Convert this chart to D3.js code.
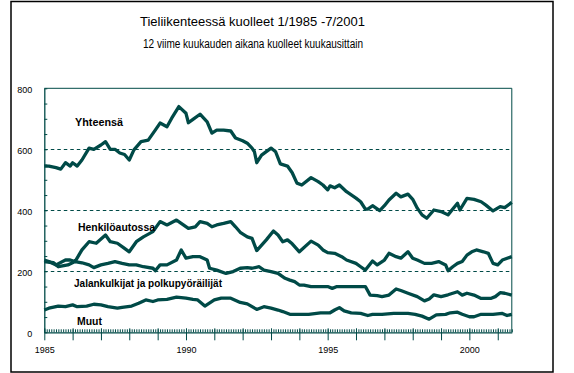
<!DOCTYPE html>
<html>
<head>
<meta charset="utf-8">
<script src="https://cdn.jsdelivr.net/npm/d3@7"></script>
<style>
  body { margin: 0; background: #fff; }
  svg { display: block; }
</style>
</head>
<body>
<script>
"use strict";

// month index counted from 1/1985, value = deaths in the last 12 months
const totalMonths = [0, 2, 5, 7, 9, 11, 12, 14, 16, 19, 21, 24, 26, 28, 30, 32, 34, 36, 38, 41, 44, 47, 49, 52, 54, 57, 60, 61, 63, 66, 69, 71, 73, 76, 79, 81, 84, 86, 88, 89, 90, 92, 96, 98, 100, 103, 105, 107, 109, 113, 116, 118, 120, 121, 123, 125, 128, 132, 134, 136, 137, 139, 142, 144, 146, 149, 151, 154, 156, 158, 160, 162, 165, 168, 171, 175, 176, 179, 182, 185, 187, 190, 193, 195, 198]
const totalValues = [545, 545, 540, 535, 556, 545, 556, 545, 565, 604, 600, 614, 625, 600, 600, 588, 583, 565, 598, 625, 630, 663, 686, 674, 702, 740, 718, 687, 698, 715, 690, 653, 663, 663, 660, 637, 628, 620, 604, 592, 556, 581, 604, 592, 552, 545, 523, 489, 483, 507, 494, 483, 467, 480, 474, 483, 461, 440, 428, 404, 404, 415, 399, 415, 434, 456, 444, 453, 436, 407, 385, 374, 401, 396, 385, 423, 401, 439, 436, 428, 417, 398, 412, 409, 426]

const carMonths = [0, 2, 5, 9, 11, 13, 16, 19, 22, 26, 28, 31, 34, 36, 39, 42, 46, 49, 52, 56, 61, 64, 66, 69, 71, 73, 76, 79, 81, 83, 86, 88, 90, 94, 97, 99, 101, 103, 105, 108, 113, 116, 118, 120, 123, 126, 128, 132, 134, 136, 139, 141, 144, 146, 149, 151, 154, 156, 158, 161, 164, 167, 170, 171, 173, 175, 177, 179, 181, 183, 186, 188, 190, 192, 194, 198]
const carValues = [237, 232, 221, 237, 237, 232, 270, 297, 292, 319, 297, 292, 275, 264, 297, 313, 330, 363, 352, 368, 341, 346, 363, 357, 346, 352, 357, 363, 346, 328, 313, 308, 268, 303, 332, 319, 297, 303, 290, 264, 299, 286, 270, 261, 259, 248, 237, 226, 215, 204, 234, 221, 237, 259, 248, 243, 264, 243, 237, 226, 226, 232, 221, 202, 215, 226, 232, 253, 264, 270, 264, 259, 226, 221, 237, 248]

const walkMonths = [0, 4, 6, 10, 13, 16, 19, 21, 24, 27, 30, 33, 36, 39, 42, 46, 47, 49, 52, 56, 58, 60, 63, 66, 69, 70, 73, 77, 80, 83, 86, 88, 91, 93, 96, 99, 102, 104, 106, 108, 110, 113, 117, 120, 122, 124, 127, 130, 134, 136, 138, 141, 143, 146, 149, 151, 154, 158, 161, 163, 165, 168, 171, 175, 177, 179, 182, 185, 189, 191, 193, 195, 198]
const walkValues = [232, 228, 215, 221, 232, 228, 221, 212, 221, 226, 232, 226, 221, 221, 215, 210, 202, 221, 221, 237, 270, 243, 248, 248, 237, 210, 204, 193, 199, 210, 212, 210, 215, 204, 199, 193, 177, 171, 166, 155, 155, 150, 150, 150, 144, 150, 150, 150, 150, 150, 122, 120, 117, 122, 142, 137, 128, 117, 103, 109, 123, 117, 123, 133, 122, 128, 122, 111, 111, 117, 130, 128, 122]

const otherMonths = [0, 2, 6, 9, 12, 14, 18, 21, 24, 27, 31, 33, 37, 40, 43, 46, 48, 52, 56, 60, 63, 65, 68, 72, 75, 79, 83, 86, 90, 93, 96, 99, 101, 104, 108, 112, 117, 121, 123, 125, 127, 130, 134, 137, 139, 143, 148, 151, 154, 157, 160, 163, 166, 170, 172, 175, 177, 180, 182, 185, 190, 194, 196, 198]
const otherValues = [73, 79, 86, 84, 90, 84, 86, 92, 90, 84, 79, 82, 86, 95, 106, 101, 106, 108, 115, 112, 108, 106, 86, 106, 112, 112, 98, 93, 75, 84, 79, 73, 68, 59, 59, 59, 64, 64, 73, 81, 70, 64, 62, 55, 59, 59, 62, 62, 62, 59, 53, 43, 57, 59, 64, 66, 59, 51, 51, 59, 59, 62, 55, 59]

const seriesNames = ["Yhteensä", "Henkilöautossa", "Jalankulkijat ja polkupyöräilijät", "Muut"]
const yTickValues = [0, 200, 400, 600, 800]
const gridValues = [200, 400, 600]
const labelledYears = [1985, 1990, 1995, 2000]
const titleText = "Tieliikenteessä kuolleet 1/1985 -7/2001"
const subtitleText = "12 viime kuukauden aikana kuolleet kuukausittain"

;(function(){
    const measurements = {
        width: 574,
        height: 373,
        left: 44.3,
        right: 511.8,
        top: 88.3,
        bottom: 332.3
    }
    const teal = "#004a47"

    const svgContainer = d3.select("body").append("svg")
        .attr("width", measurements.width)
        .attr("height", measurements.height)

    const toDate = (m) => new Date(1985, m, 1)

    const scaleX = d3.scaleTime()
        .domain([toDate(0), toDate(198)])
        .range([measurements.left, measurements.right])

    const scaleY = d3.scaleLinear()
        .domain([0, 800])
        .range([measurements.bottom, measurements.top])

    // outer frame
    svgContainer.append("rect")
        .attr("x", 11).attr("y", 1.5)
        .attr("width", 542).attr("height", 370.5)
        .attr("fill", "none")
        .attr("stroke", "#000")
        .attr("stroke-width", 1.5)

    // titles
    svgContainer.append("text")
        .attr("x", 140).attr("y", 26)
        .attr("textLength", 225).attr("lengthAdjust", "spacingAndGlyphs")
        .style("font", "13px 'Liberation Sans', Arial, sans-serif")
        .text(titleText)
    svgContainer.append("text")
        .attr("x", 143).attr("y", 48)
        .attr("textLength", 220).attr("lengthAdjust", "spacingAndGlyphs")
        .style("font", "12.5px 'Liberation Sans', Arial, sans-serif")
        .text(subtitleText)

    drawGrid()
    drawAxes()
    plotData()
    drawLabels()

    function drawGrid() {
        svgContainer.append("g").selectAll("line")
            .data(gridValues)
            .join("line")
            .attr("x1", measurements.left).attr("x2", measurements.right)
            .attr("y1", d => Math.round(scaleY(d)) + 0.5)
            .attr("y2", d => Math.round(scaleY(d)) + 0.5)
            .attr("stroke", teal)
            .attr("stroke-dasharray", "3.5,3")

        // top and right border of the plot
        svgContainer.append("path")
            .attr("d", `M${measurements.left},${measurements.top}H${measurements.right}V${measurements.bottom}`)
            .attr("fill", "none")
            .attr("stroke", teal)
    }

    function drawAxes() {
        const yAxis = d3.axisLeft(scaleY)
            .tickValues(d3.range(0, 801, 50))
            .tickSizeInner(-3)
            .tickSizeOuter(0)
            .tickPadding(12)
            .tickFormat(d => yTickValues.includes(d) ? d : "")

        const gy = svgContainer.append("g")
            .attr("transform", `translate(${measurements.left},0)`)
            .call(yAxis)
        gy.select(".domain").attr("stroke", teal).attr("stroke-width", 1.3)
        gy.selectAll("line").attr("stroke", teal)
        gy.selectAll("text")
            .attr("dy", "0.45em")
            .style("font", "9px 'Liberation Sans', Arial, sans-serif")
            .attr("fill", "#000")

        // monthly minor ticks
        const minorAxis = d3.axisBottom(scaleX)
            .ticks(d3.timeMonth.every(1))
            .tickSizeInner(-3)
            .tickSizeOuter(0)
            .tickFormat("")
        const gm = svgContainer.append("g")
            .attr("transform", `translate(0,${measurements.bottom})`)
            .call(minorAxis)
        gm.select(".domain").attr("stroke", teal).attr("stroke-width", 1.3)
        gm.selectAll("line").attr("stroke", teal)

        const xAxis = d3.axisBottom(scaleX)
            .tickValues(d3.timeYear.range(toDate(0), toDate(199)))
            .tickSizeInner(8)
            .tickSizeOuter(0)
            .tickPadding(6)
            .tickFormat(d => labelledYears.includes(d.getFullYear()) ? d.getFullYear() : "")
        const gx = svgContainer.append("g")
            .attr("transform", `translate(0,${measurements.bottom})`)
            .call(xAxis)
        gx.select(".domain").remove()
        gx.selectAll("line").attr("y1", -4).attr("stroke", teal)
        gx.selectAll("text")
            .style("font", "9px 'Liberation Sans', Arial, sans-serif")
            .attr("fill", "#000")
    }

    function plotData() {
        const series = [
            [totalMonths, totalValues],
            [carMonths, carValues],
            [walkMonths, walkValues],
            [otherMonths, otherValues]
        ].map(([ms, vs]) => ms.map((m, i) => ({date: toDate(m), value: vs[i]})))

        const line = d3.line()
            .x(d => scaleX(d.date))
            .y(d => scaleY(d.value))

        svgContainer.append("g").selectAll("path")
            .data(series)
            .join("path")
            .attr("d", line)
            .attr("fill", "none")
            .attr("stroke", teal)
            .attr("stroke-width", 3.3)
            .attr("stroke-linejoin", "round")
    }

    function drawLabels() {
        const labelPos = [[75, 126, 48], [78, 231, 77], [74, 287, 148], [77, 325, 25]]
        svgContainer.append("g").selectAll("text")
            .data(seriesNames)
            .join("text")
            .attr("x", (d, i) => labelPos[i][0])
            .attr("y", (d, i) => labelPos[i][1])
            .attr("textLength", (d, i) => labelPos[i][2])
            .attr("lengthAdjust", "spacingAndGlyphs")
            .style("font", "bold 10px 'Liberation Sans', Arial, sans-serif")
            .attr("fill", "#000")
            .text(d => d)
    }
})()
</script>
</body>
</html>
